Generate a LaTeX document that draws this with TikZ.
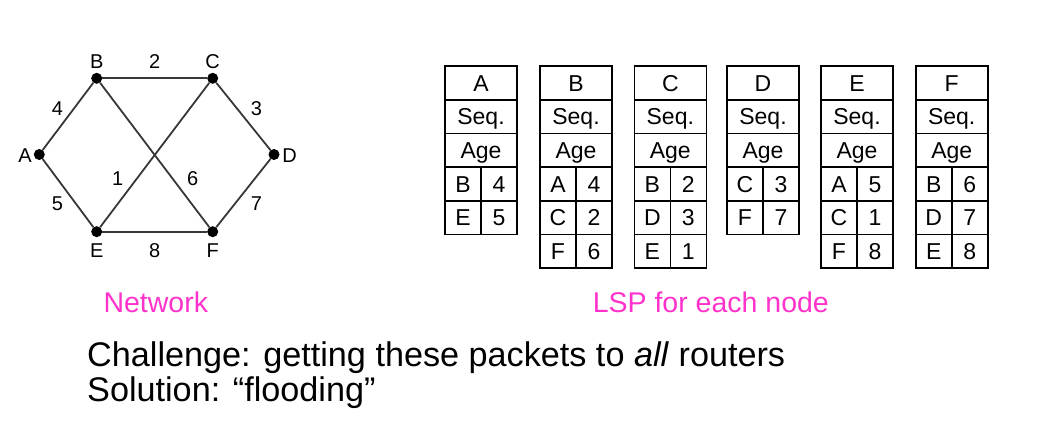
\documentclass[tikz,border=0pt]{standalone}
\usepackage{fontspec}
\setmainfont{Liberation Sans}
\definecolor{caption}{RGB}{255,51,204}
\definecolor{edgegray}{RGB}{55,55,55}
\newcommand\lsptable[3]{%
  % #1 = node name, #2 = left edge, #3 = neighbour/cost rows
  \node[cell] (t#1-name) at (#2+36,82.85) {#1};
  \node[cell] (t#1-seq)  at (#2+36,116.55) {Seq.};
  \node[cell] (t#1-age)  at (#2+36,150.25) {Age};
  \foreach \n/\v [count=\k] in {#3} {
    \node[halfcell] (t#1-\k-n) at (#2+18,150.25+33.7*\k) {\n};
    \node[halfcell] (t#1-\k-v) at (#2+54,150.25+33.7*\k) {\v};
  }%
}
\begin{document}
\begin{tikzpicture}[x=1pt,y=-1pt,
  dot/.style={circle,fill=black,inner sep=0pt,minimum size=11pt},
  vlabel/.style={inner sep=0pt,font=\fontsize{20}{24}\selectfont,text height=14.3pt,text depth=0pt},
  elabel/.style={vlabel},
  link/.style={draw=edgegray,line width=1.8pt},
  cell/.style={draw,line width=1.6pt,minimum width=72pt,minimum height=33.7pt,inner sep=0pt,
    font=\fontsize{23}{27}\selectfont,text height=16.5pt,text depth=0pt},
  halfcell/.style={cell,minimum width=36pt},
  caption/.style={text=caption,font=\fontsize{28.5}{32}\selectfont,inner sep=0pt,anchor=base},
  bodytext/.style={font=\fontsize{34.2}{38}\selectfont,inner sep=0pt,anchor=base west}]
\useasboundingbox (0,0) rectangle (1048,444);

% routers
\node[dot] (A) at (39.3,154.5) {};
\node[dot] (B) at (96.7,78.3) {};
\node[dot] (C) at (212.7,78.3) {};
\node[dot] (D) at (274,154.5) {};
\node[dot] (E) at (96.7,231.7) {};
\node[dot] (F) at (212.7,231.7) {};

% router names
\node[vlabel] (lA) at (25,155) {A};
\node[vlabel] (lB) at (96.7,61) {B};
\node[vlabel] (lC) at (212.7,61) {C};
\node[vlabel] (lD) at (289.5,155) {D};
\node[vlabel] (lE) at (96.7,250) {E};
\node[vlabel] (lF) at (212.7,250) {F};

% links with costs
\draw[link] (A) -- node[elabel,xshift=-10.5pt,yshift=8pt] (c4) {4} (B);
\draw[link] (B) -- node[elabel,yshift=16.5pt] (c2) {2} (C);
\draw[link] (C) -- node[elabel,xshift=13pt,yshift=8pt] (c3) {3} (D);
\draw[link] (A) -- node[elabel,xshift=-10.5pt,yshift=-10pt] (c5) {5} (E);
\draw[link] (D) -- node[elabel,xshift=13pt,yshift=-10pt] (c7) {7} (F);
\draw[link] (E) -- node[elabel,yshift=-18.5pt] (c8) {8} (F);
\draw[link] (E) -- node[elabel,pos=0.336,xshift=-19pt] (c1) {1} (C);
\draw[link] (B) -- node[elabel,pos=0.665,xshift=20pt] (c6) {6} (F);

% link state packets
\lsptable{A}{445}{B/4,E/5}
\lsptable{B}{540}{A/4,C/2,F/6}
\lsptable{C}{634.3}{B/2,D/3,E/1}
\lsptable{D}{727}{C/3,F/7}
\lsptable{E}{821}{A/5,C/1,F/8}
\lsptable{F}{915.7}{B/6,D/7,E/8}

% captions
\node[caption] (netcap) at (155.8,312) {Network};
\node[caption] (lspcap) at (710.8,312) {LSP for each node};
\node[bodytext] (challenge) at (87,366) {Challenge: getting these packets to \textit{all} routers};
\node[bodytext] (solution) at (87,401) {Solution: “flooding”};
\end{tikzpicture}
\end{document}
